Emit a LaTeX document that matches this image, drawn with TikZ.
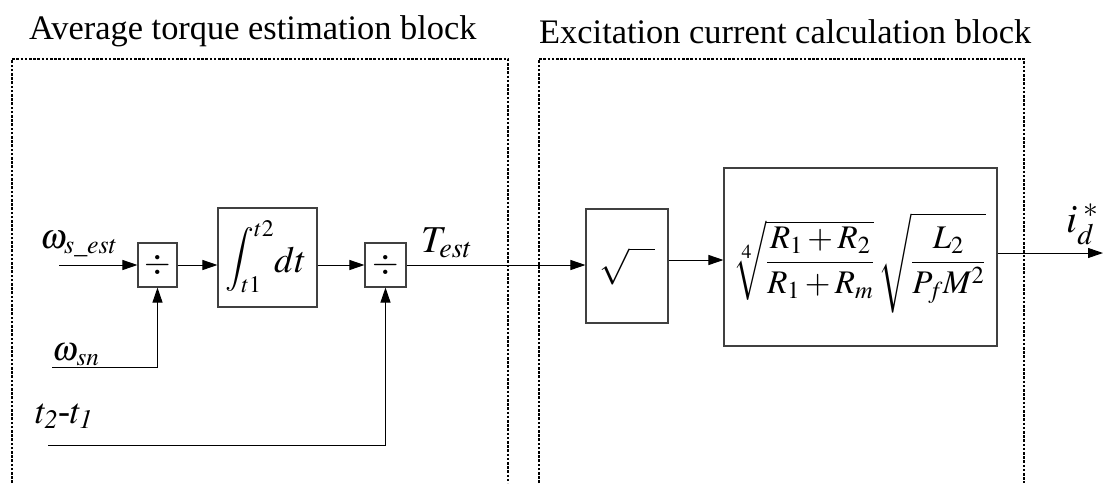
\documentclass[tikz,border=0pt]{standalone}
\usepackage{amsmath}
\usepackage{mathptmx}
\usepackage[no-math]{fontspec}
\setmainfont{Liberation Serif}
\usetikzlibrary{arrows.meta}

\begin{document}
\begin{tikzpicture}[x=1pt,y=-1pt,
  region/.style={line width=1.4pt, dash pattern=on 2.6pt off 1.6pt},
  title/.style={anchor=base west, inner sep=0pt, font=\fontsize{34.4}{40}\selectfont},
  opbox/.style={draw=black!75, line width=1.1pt, inner sep=0pt},
  lbl/.style={anchor=base west, inner sep=0pt},
  fs/.style={font=\fontsize{#1}{#1}\selectfont},
  flow/.style={line width=1pt, -{Triangle[length=15pt,width=10pt]}}]
\useasboundingbox (0,0) rectangle (1106,483);

% dotted frames of the two sub-blocks (open at the bottom)
\draw[region] (12,483) -- (12,59) -- (508,59) -- (508,483);
\draw[region] (539,483) -- (539,59) -- (1024,59) -- (1024,483);
\node[title] (ttl1) at (29,39) {Average torque estimation block};
\node[title] (ttl2) at (539,43) {Excitation current calculation block};

% operation blocks
\node[opbox, fs=34, minimum width=39pt, minimum height=44pt]
  (div1) at (157.5,265) {$\div$};
\node[opbox, minimum width=99pt, minimum height=99pt]
  (int) at (267.5,257.5) {};
\node[opbox, fs=34, minimum width=41pt, minimum height=44pt]
  (div2) at (385.5,265) {$\div$};
\node[opbox, fs=36, minimum width=82pt, minimum height=114pt]
  (sqrtb) at (627,266) {$\sqrt{\phantom{m}}$};
\node[opbox, minimum width=273pt, minimum height=178pt]
  (gain) at (860.5,257) {};

% block contents
\node[fs=32, anchor=base, inner sep=0pt] (intf) at (266,272)
  {\raisebox{5pt}{$\displaystyle\int_{t1}^{t2}$}{\fontsize{37}{37}\selectfont$dt$}};
\node[fs=33, inner sep=0pt] (gainf) at (859,263)
  {$\sqrt[4]{\dfrac{R_1+R_2}{R_1+R_m}}\,\sqrt{\dfrac{L_2}{P_fM^2}}$};

% signal labels
\node[lbl, fs=35] (wsest) at (40,248) {$\omega_{s\_est}$};
\node[lbl, fs=34] (wsn) at (52,360) {$\omega_{\hspace{1pt}sn}$};
\node[lbl, fs=36] (tdiff) at (35,423) {$t_{\mathit{2}}$-$t_{\mathit{1}}$};
\node[lbl, fs=38] (test) at (421,252) {$T_{est}$};
\node[lbl, fs=40] (idref) at (1066,232) {$i_d^{\;*}$};

% signal ends
\coordinate (win) at (59,265);
\coordinate (snin) at (52,367);
\coordinate (tin) at (48,445);
\coordinate (iout) at (1103,253);

% connectors
\draw[flow] (win) -- (div1.west);
\draw[flow] (div1.east) -- (div1.east -| int.west);
\draw[flow] (div2.west -| int.east) -- (div2.west);
\draw[flow] (div2.east) -- (div2.east -| sqrtb.west);
\draw[flow] ([yshift=6pt]sqrtb.east) -- ([yshift=6pt]sqrtb.east -| gain.west);
\draw[flow] ([yshift=4pt]gain.east) -- (iout);
\draw[flow] (snin) -| (div1.south);
\draw[flow] (tin) -| (div2.south);
\end{tikzpicture}
\end{document}
